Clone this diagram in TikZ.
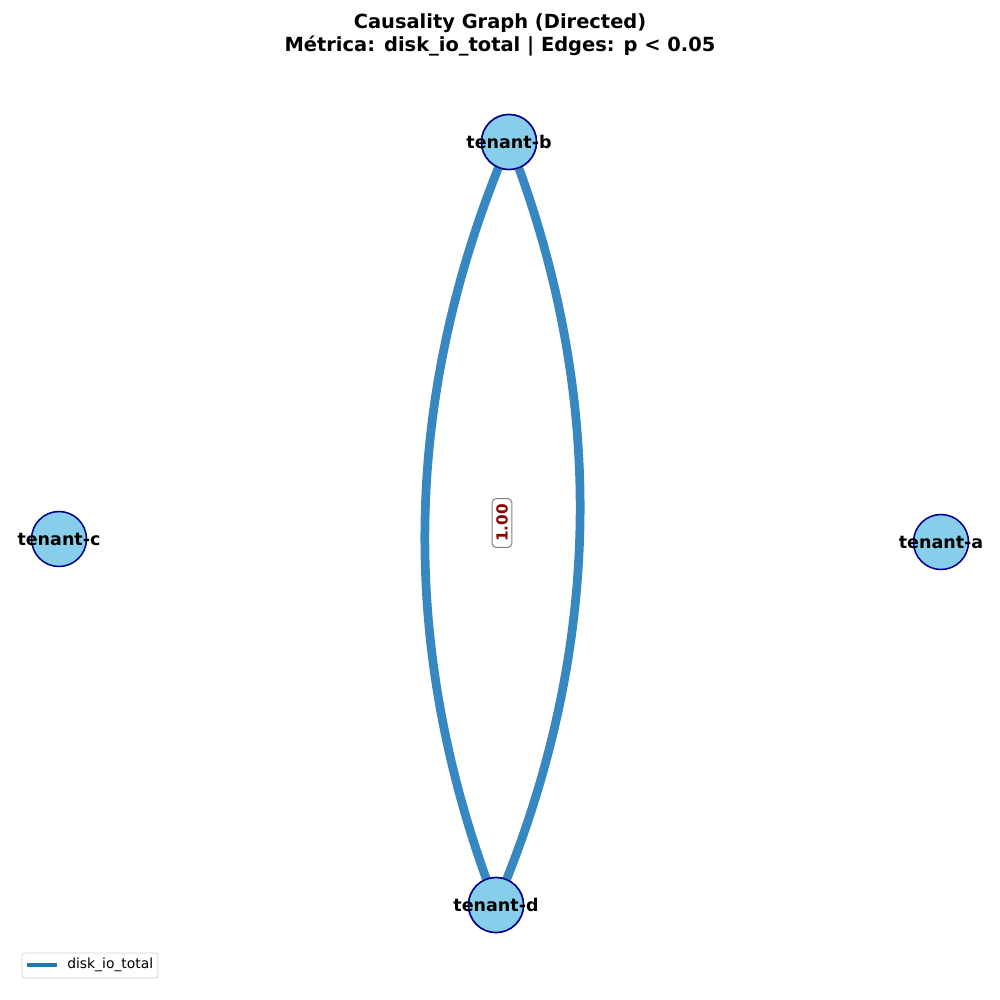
\documentclass[tikz,border=0pt]{standalone}
\usepackage{fontspec}
\setmainfont{DejaVu Sans}
\definecolor{nodefill}{HTML}{87CEEB}
\definecolor{nodeline}{HTML}{00008B}
\definecolor{edgecol}{HTML}{3787C0}
\definecolor{legcol}{HTML}{1F77B4}
\definecolor{labred}{HTML}{8B0000}
\begin{document}
\begin{tikzpicture}[x=0.72pt,y=-0.72pt,
  tenant/.style={circle,draw=nodeline,fill=nodefill,line width=1.1pt,minimum size=55*0.72pt,inner sep=0pt},
  tlabel/.style={font=\fontsize{12.6}{14}\selectfont\bfseries,text=black,inner sep=0pt},
  edgeline/.style={draw=edgecol,line width=6.3pt},
  wlabel/.style={draw=gray,fill=white,rounded corners=3pt,line width=0.7pt,rotate=90,text=labred,font=\fontsize{11}{13}\selectfont\bfseries,inner xsep=4pt,inner ysep=3pt},
  titlefont/.style={font=\fontsize{14}{17}\selectfont\bfseries,align=center}]
\useasboundingbox (0,0) rectangle (1000,1000);
% nodes
\node[tenant] (b) at (509,142) {};
\node[tenant] (d) at (496,905) {};
\node[tenant] (c) at (59,539) {};
\node[tenant] (a) at (941,542) {};
% edges
\path[edgeline] (b.center) .. controls (401.3,394.6) and (397,648.9) .. (d.center);
\path[edgeline] (b.center) .. controls (608,394.6) and (603.7,652.4) .. (d.center);
% redraw nodes on top of the edges
\node[tenant] at (b.center) {};
\node[tenant] at (d.center) {};
\node[tlabel] (lb) at (509,142) {tenant-b};
\node[tlabel] (ld) at (496,905) {tenant-d};
\node[tlabel] (lc) at (59,539) {tenant-c};
\node[tlabel] (la) at (941,542) {tenant-a};
% weight label
\node[wlabel] (w) at (502,523) {1.00};
% title
\node[titlefont] (t) at (500,35) {Causality Graph (Directed)\\Métrica: disk\_io\_total | Edges: p < 0.05};
% legend
\node[draw=black!18,fill=white,rounded corners=2pt,line width=0.6pt,minimum width=136*0.72pt,minimum height=25*0.72pt,inner sep=0pt] (leg) at (90,965.5) {};
\coordinate (l1) at (27,965);
\coordinate (l2) at (57,965);
\draw[legcol,line width=2.2pt] (l1) -- (l2);
\node[anchor=west,font=\fontsize{10}{12}\selectfont,inner sep=0pt] (lt) at (67,965) {disk\_io\_total};
\end{tikzpicture}
\end{document}
